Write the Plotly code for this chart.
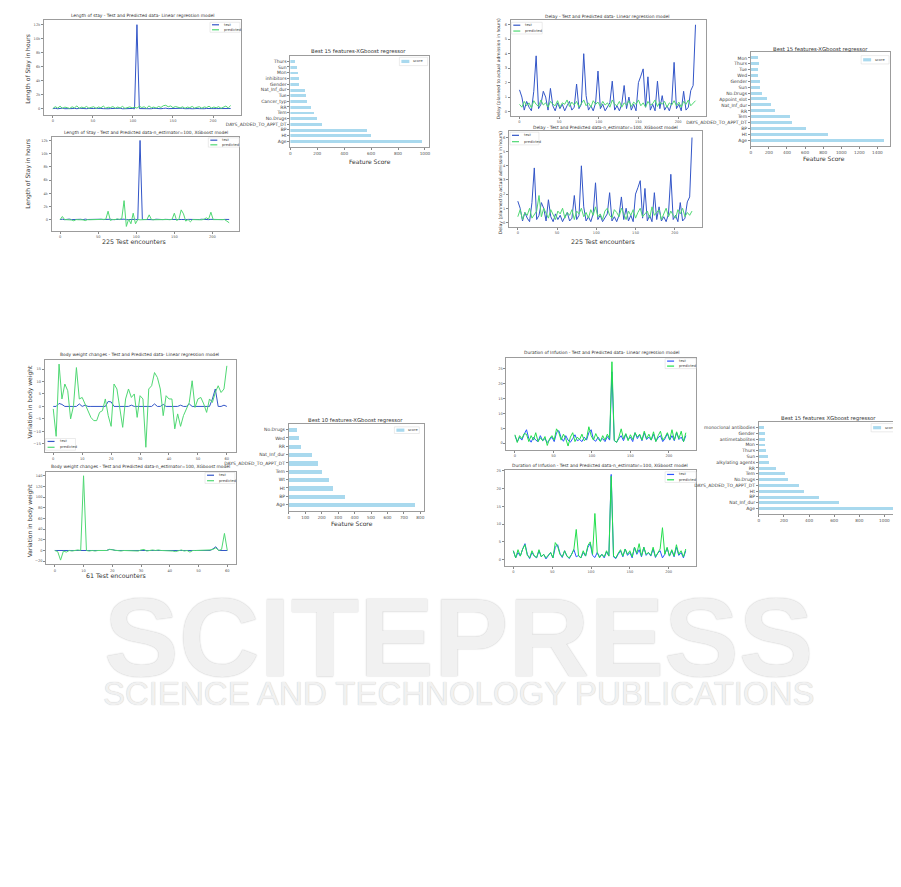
import plotly.graph_objects as go

W, H = 901, 887

# ---------------- data ----------------
# Length of stay (every 3rd test encounter)
los_test = [40, 90, 20, 60, 110, 30, 70, 15, 50, 80, 25, 100, 45, 60, 30,
            75, 20, 55, 90, 35, 65, 40, 85, 25, 50, 70, 30, 60, 95, 20,
            45, 80, 35, 65, 20, 12000, 50, 30, 75, 40, 60, 25, 90, 45, 55,
            30, 70, 110, 40, 60, 25, 80, 35, 50, 95, 30, 65, 45, 20, 75,
            55, 40, 85, 30, 60, 25, 70, 45, 50, 35, 80, 30, 60, 40, 55]
los_pred_lr = [50, 320, 120, 380, 90, 250, 180, 60, 300, 150, 420, 80, 260, 140, 350,
               100, 220, 310, 70, 280, 160, 400, 110, 240, 190, 330, 90, 270, 130, 360,
               80, 210, 290, 150, 240, 110, 380, 200, 300, 90, 430, 170, 260, 120, 350,
               210, 460, 520, 300, 420, 180, 340, 250, 150, 300, 90, 260, 180, 350, 120,
               240, 310, 100, 280, 200, 380, 130, 260, 170, 320, 90, 250, 400, 140, 480]
los_pred_xgb = [20, 500, 30, 10, 40, -20, -150, 30, 10, 20, 0, -120, 20, 10, 30,
                0, 20, 10, 30, 40, 80, 1300, -100, 60, 20, 150, 40, 200, 2900, -1000,
                100, -600, 1000, -600, 50, 0, 30, 10, 40, 750, 20, 10, 30, 0, 20,
                10, 30, 40, 20, 60, 1000, -100, 80, 1500, 900, -200, 40, -300, 30, 10,
                20, 40, 0, 80, 300, 100, 1150, 30, 10, 40, 20, 60, 30, -200, -450]

# Delay (planned to actual admission)
delay_test = [1.5, 1.0, 0.1, 0.7, 0.3, 0.05, 1.4, 3.85, 0.2, 0.5, 1.4, 1.0, 0.1, 1.6, 0.4,
              0.05, 0.6, 0.2, 0.5, 0.05, 0.4, 0.7, 0.1, 0.3, 1.9, 0.2, 0.5, 4.0, 1.1, 0.1,
              0.4, 0.05, 0.6, 2.8, 0.2, 0.5, 0.05, 0.3, 0.6, 2.1, 0.1, 0.4, 0.05, 0.5, 1.8,
              0.2, 1.0, 0.1, 0.5, 0.05, 2.0, 2.45, 2.95, 0.3, 2.4, 0.1, 0.5, 0.05, 2.1, 0.2,
              1.1, 0.1, 0.4, 0.05, 0.6, 3.4, 0.2, 0.5, 0.05, 1.4, 0.1, 0.3, 1.45, 1.8, 6.0]
delay_pred_lr = [0.5, 0.3, 0.7, 0.4, 0.6, 0.25, 0.75, 0.5, 0.35, 0.8, 0.45, 0.6, 0.3, 0.7, 0.5,
                 0.4, 0.75, 0.3, 0.6, 0.5, 0.8, 0.35, 0.65, 0.45, 0.7, 0.3, 0.55, 0.8, 0.4, 0.6,
                 0.3, 0.75, 0.5, 0.65, 0.35, 0.7, 0.45, 0.6, 0.3, 0.8, 0.5, 0.4, 0.7, 0.3, 0.6,
                 0.45, 0.75, 0.35, 0.65, 0.5, 0.8, 0.4, 0.6, 0.3, 0.7, 0.45, 0.55, 0.8, 0.35, 0.65,
                 0.5, 0.7, 0.3, 0.6, 0.45, 0.75, 0.4, 0.65, 0.3, 0.7, 0.5, 0.8, 0.4, 0.6, 0.75]
delay_pred_xgb = [0.4, 0.9, 0.2, 0.7, 0.5, 1.0, 0.3, 0.6, 0.8, 1.9, 0.4, 1.0, 0.6, 0.3, 0.9,
                  0.5, 0.2, 0.8, 0.6, 1.0, 0.3, 0.7, 0.5, 0.9, 0.2, 0.8, 0.6, 1.0, 0.4, 0.7,
                  0.3, 0.9, 0.5, 1.1, 0.4, 0.6, 0.2, 0.8, 1.0, 0.5, 0.3, 0.9, 0.7, 0.4, 1.0,
                  0.6, 0.2, 0.8, 0.5, 0.9, 0.3, 0.7, 1.0, 0.4, 0.6, 0.8, 0.3, 1.1, 0.5, 0.7,
                  0.9, 0.2, 0.6, 1.0, 0.4, 0.8, 0.5, 0.3, 0.9, 0.6, 1.0, 0.4, 0.7, 0.5, 0.8]

# Body weight changes (61 encounters)
bw_test = [0, 0, 1.2, 0.8, 0, 0, 0, 0, 0, 1.0,
           0, 0.5, 0, 0, 0, 0, 0, 0, 0, 2.0,
           1.8, 0, 0, 0, 0, 0, 0, 0.5, 0, 0,
           0, 0, 0, 0, 0, 1.0, 0, 0, 0.8, 0,
           0, 0, 0, 0, 0.5, 0, 0, 1.0, 0, 0,
           0, 0, 0, 0, 0, 3.0, 7.0, 0, 0, 0.5,
           0]
bw_pred_lr = [-1, -12, 17, 3, 9, 6.3, -5, 0.3, 15.6, 3,
              3.6, 1, -1.7, -4.4, -5.7, -5.7, -2.4, -1.7, 3, -3.7,
              -8, 9, 7, -1, -8.4, 3, 7, 3.6, 5, -4.4,
              4.3, 3, -16.4, 7, 8.3, 13.6, 11.6, 7, -3.7, 4.3,
              3, 3, -9, -3, -8, -3.7, -1, 1.6, 10.3, -0.4,
              3, 3.6, 1, -2.4, 3, 1.6, 5.6, 8.3, 5.6, 7,
              16.3]
bw_pred_xgb = [0, -2, -18, -1, -3, 0, -1, 0, 1, 0,
               140, 0, -1, 0, -1, 0, 0, 1, 0, 2,
               1, 0, 0, -1, 0, 0, 0, 0, 0, -1,
               1, 2, -1, 0, 1, 0, 1, 0, 0, -1,
               0, -1, -2, 0, 1, -1, 0, -3, 0, 0,
               0, 0, 0, 0, 1, 2, 5, 0, 2, 32,
               0]

# Duration of infusion
dur_test = [2.5, 0.5, 2.0, 1.0, 3.0, 4.5, 1.5, 0.3, 2.0, 1.0, 0.5, 2.5, 0.8, 1.5, 0.2,
            1.0, 2.0, 0.5, 3.5, 4.2, 1.8, 0.6, 2.5, 1.0, 0.3, 1.5, 2.8, 0.8, 1.2, 0.5,
            2.0, 1.0, 3.5, 4.5, 1.2, 0.6, 2.0, 0.8, 1.5, 0.5, 2.2, 1.0, 24.0, 0.8, 0.3,
            1.5, 2.5, 0.8, 3.0, 1.2, 2.0, 0.5, 3.5, 1.5, 2.8, 0.8, 3.5, 1.2, 2.0, 1.0,
            3.0, 0.6, 1.8, 2.5, 0.5, 1.5, 3.2, 1.0, 2.5, 0.8, 3.5, 1.2, 2.0, 0.5, 2.5]
dur_pred_lr = [2.8, 0.2, 2.5, 1.5, 3.2, 3.0, 0.5, 2.5, 1.0, 3.5, 0.5, 1.8, 0.8, 2.2, -0.8,
               1.5, 2.5, 1.0, 4.8, 3.5, 1.0, 3.0, 1.5, -1.0, 2.0, 3.5, 0.5, 2.0, 1.2, 3.0,
               0.8, 1.5, 5.5, 2.5, 1.0, 3.2, 1.5, 0.5, 2.5, 1.0, 3.0, 1.5, 27.4, 1.0, 0.2,
               2.0, 4.8, 1.5, 3.2, 0.8, 2.8, 1.2, 3.5, 2.0, 3.0, 1.0, 4.0, 1.5, 3.0, 1.0,
               3.8, 0.5, 2.5, 4.0, 1.0, 2.0, 3.5, 1.2, 4.5, 1.0, 3.8, 1.5, 4.0, 0.5, 3.5]
dur_pred_xgb = [2.5, 0.5, 2.8, 1.0, 3.0, 4.2, 1.2, 0.5, 2.5, 1.0, 0.6, 2.8, 0.8, 1.5, 0.5,
                1.2, 2.0, 0.5, 4.8, 3.8, 1.5, 0.8, 2.5, 1.0, 0.5, 1.5, 3.0, 8.5, 1.0, 0.5,
                2.5, 1.0, 4.0, 5.0, 1.5, 13.0, 2.0, 0.5, 1.5, 0.8, 2.5, 1.0, 23.5, 1.0, 0.5,
                1.8, 2.8, 1.0, 3.0, 1.5, 2.5, 0.8, 3.5, 1.8, 4.5, 1.0, 3.5, 1.5, 2.0, 1.2,
                3.5, 0.8, 2.0, 3.0, 9.0, 1.5, 3.5, 1.0, 2.8, 1.0, 4.2, 1.5, 2.5, 0.8, 3.0]

# Feature scores (listed bottom -> top)
f1_names = ["Age", "Ht", "BP", "DAYS_ADDED_TO_APPT_DT", "No.Drugs", "Tem", "RR", "Cancer_typ",
            "Tue", "Nat_Inf_dur", "Gender", "inhibitors", "Mon", "Sun", "Thurs"]
f1_scores = [978, 603, 571, 241, 204, 175, 155, 125, 116, 113, 69, 69, 59, 49, 37]
f2_names = ["Age", "Ht", "BP", "DAYS_ADDED_TO_APPT_DT", "Tem", "RR", "Nat_Inf_dur", "Appoint_slot",
            "No.Drugs", "Sun", "Gender", "Wed", "Tue", "Thurs", "Mon"]
f2_scores = [1468, 851, 613, 451, 433, 264, 224, 180, 121, 99, 99, 81, 73, 84, 73]
f3_names = ["Age", "BP", "Ht", "Wt", "Tem", "DAYS_ADDED_TO_APPT_DT", "Nat_Inf_dur", "RR", "Wed", "No.Drugs"]
f3_scores = [768, 339, 269, 246, 200, 178, 141, 70, 62, 50]
f4_names = ["Age", "Nat_Inf_dur", "BP", "Ht", "DAYS_ADDED_TO_APPT_DT", "No.Drugs", "Tem", "RR",
            "alkylating agents", "Sun", "Thurs", "Mon", "antimetabolites", "Gender", "monoclonal antibodies"]
f4_scores = [1071, 638, 479, 360, 317, 233, 204, 138, 82, 69, 53, 45, 45, 48, 40]

# ---------------- helpers ----------------
fig = go.Figure()
layout = {}
annotations = []
shapes = []

TICKFONT = dict(family="DejaVu Sans", size=3.6, color="#555")
AX = dict(showline=True, mirror=True, linecolor="#9c9c9c", linewidth=0.8,
          ticks="outside", ticklen=2, tickwidth=0.6, tickcolor="#888",
          showgrid=False, zeroline=False, tickfont=TICKFONT, fixedrange=True)


def xd(a, b):
    return [a / W, b / W]


def yd(a, b):
    return [1 - b / H, 1 - a / H]


def set_axes(n, box, xr, yr, xdt, ydt, cats=None, ytickfont=None):
    k = "" if n == 1 else str(n)
    xa = dict(AX, domain=xd(box[0], box[1]), range=xr, anchor="y" + k, dtick=xdt, tick0=0)
    ya = dict(AX, domain=yd(box[2], box[3]), range=yr, anchor="x" + k)
    if cats is not None:
        ya.update(type="category", ticklen=2, tickmode="array", tickvals=cats, ticktext=cats,
                  categoryorder="array", categoryarray=cats)
        if ytickfont:
            ya["tickfont"] = ytickfont
    else:
        ya.update(dtick=ydt, tick0=0)
    layout["xaxis" + k] = xa
    layout["yaxis" + k] = ya
    return "x" + k, "y" + k


def text(x, y, s, size, color="#333", angle=0, anchor="center", family="DejaVu Sans"):
    annotations.append(dict(x=x / W, y=1 - y / H, xref="paper", yref="paper", text=s,
                            showarrow=False, textangle=angle, xanchor=anchor, yanchor="middle",
                            font=dict(size=size, color=color, family=family)))


def legend(x0, y0, x1, y1, items):
    shapes.append(dict(type="rect", xref="paper", yref="paper", x0=x0 / W, x1=x1 / W,
                       y0=1 - y1 / H, y1=1 - y0 / H, line=dict(color="#dddddd", width=0.6),
                       fillcolor="rgba(255,255,255,0.85)"))
    n = len(items)
    step = (y1 - y0) / n
    for i, (lab, col, kind) in enumerate(items):
        yc = y0 + step * (i + 0.5)
        if kind == "line":
            shapes.append(dict(type="line", xref="paper", yref="paper", x0=(x0 + 2) / W, x1=(x0 + 9) / W,
                               y0=1 - yc / H, y1=1 - yc / H, line=dict(color=col, width=1.2)))
        else:
            shapes.append(dict(type="rect", xref="paper", yref="paper", x0=(x0 + 2) / W, x1=(x0 + 10) / W,
                               y0=1 - (yc + 1.6) / H, y1=1 - (yc - 1.6) / H, line=dict(width=0),
                               fillcolor=col))
        text(x0 + 12, yc, lab, 3.6, "#444", anchor="left")


def line_panel(n, box, test, pred, xr, yr, xdt, ydt, ctest, cpred):
    xa, ya = set_axes(n, box, xr, yr, xdt, ydt)
    step_t = 3 if len(test) < 100 and xr[1] > 100 else 1
    xt = [i * step_t for i in range(len(test))]
    xp = [i * step_t for i in range(len(pred))]
    fig.add_trace(go.Scatter(x=xt, y=test, mode="lines", line=dict(color=ctest, width=1),
                             xaxis=xa, yaxis=ya, showlegend=False))
    fig.add_trace(go.Scatter(x=xp, y=pred, mode="lines", line=dict(color=cpred, width=1),
                             xaxis=xa, yaxis=ya, showlegend=False))


BAR = "#a9d9ee"


def bar_panel(n, box, names, scores, xmax, xdt):
    m = len(names)
    pad = 0.05 * (m - 0.5)
    xa, ya = set_axes(n, box, [0, xmax], [-0.25 - pad, m - 0.75 + pad], xdt, None, cats=names,
                      ytickfont=dict(family="DejaVu Sans", size=4.5, color="#444"))
    layout["xaxis" + ("" if n == 1 else str(n))]["tickfont"] = dict(family="DejaVu Sans", size=4.2, color="#555")
    fig.add_trace(go.Bar(x=scores, y=names, orientation="h", width=0.5, marker=dict(color=BAR, line=dict(width=0)),
                         xaxis=xa, yaxis=ya, showlegend=False))


B1, G1 = "#3356c8", "#4fd873"
B4, G4 = "#2b55ff", "#22df4c"
XR225 = [-11.2, 235.2]
XR61 = [-3, 63]

# ---- panel 1: Length of stay ----
line_panel(1, (35, 233, 11, 106), los_test, los_pred_lr, XR225, [-850, 12670], 50, 2000, B1, G1)
line_panel(2, (42.7, 231, 128.3, 222.3), los_test, los_pred_xgb, XR225, [-1700, 12500], 50, 2000, B1, G1)
bar_panel(3, (282.3, 421, 46.7, 138), f1_names, f1_scores, 1027, 200)

# ---- panel 2: Delay ----
line_panel(4, (503.3, 699.3, 11, 107), delay_test, delay_pred_lr, XR225, [-0.3, 6.33], 50, 1, B1, G1)
line_panel(5, (501.7, 695.7, 122.3, 218.3), delay_test, delay_pred_xgb, XR225, [-0.33, 6.45], 50, 1, B1, G1)
bar_panel(6, (744.3, 884.3, 43.3, 137.3), f2_names, f2_scores, 1543, 200)

# ---- panel 3: Body weight ----
line_panel(7, (35.7, 227.3, 351, 444), bw_test, bw_pred_lr, XR61, [-18.5, 18.8], 10, 5, B1, G1)
line_panel(8, (37.3, 227.7, 463.3, 556), bw_test, bw_pred_xgb, XR61, [-26, 147.5], 10, 20, B1, G1)
bar_panel(9, (280.7, 416.7, 415, 502.3), f3_names, f3_scores, 824, 100)

# ---- panel 4: Duration of infusion ----
line_panel(10, (499, 689.3, 349, 441.7), dur_test, dur_pred_lr, XR225, [-2.4, 28.8], 50, 5, B4, G4)
line_panel(11, (497.3, 689.3, 461.7, 557.3), dur_test, dur_pred_xgb, XR225, [-1.7, 25.2], 50, 5, B4, G4)
bar_panel(12, (752.3, 894, 413.3, 505.7), f4_names, f4_scores, 1124, 200)

# ---------------- titles & labels ----------------
TF = 4.4
text(134, 6.5, "Length of stay - Test and Predicted data- Linear regression model", TF)
text(137, 124, "Length of Stay - Test and Predicted data-n_estimator=100, XGboost model", TF)
text(351, 42.5, "Best 15 features-XGboost regressor", 5.3)
text(601, 7.5, "Delay - Test and Predicted data- Linear regression model", TF)
text(598, 119.5, "Delay - Test and Predicted data-n_estimator=100, XGboost model", TF)
text(814, 40.5, "Best 15 features-XGboost regressor", 5.3)
text(131, 346, "Body weight changes - Test and Predicted data- Linear regression model", TF)
text(132, 459, "Body weight changes - Test and Predicted data-n_estimator=100, XGboost model", TF)
text(348, 412, "Best 10 features-XGboost regressor", 5.3)
text(594, 344, "Duration of Infusion - Test and Predicted data- Linear regression model", TF)
text(593, 458, "Duration of Infusion - Test and Predicted data-n_estimator=100, XGboost model", TF)
text(822, 409.5, "Best 15 features XGboost regressor", 5.3)

LF = 6.0
text(19, 60, "Length of Stay in hours", LF, angle=-90)
text(19, 165, "Length of Stay in hours", LF, angle=-90)
text(492, 60, "Delay (planned to actual admission in hours)", 4.5, angle=-90)
text(493, 174, "Delay (planned to actual admission in hours)", 4.6, angle=-90)
text(21, 393, "Variation in body weight", LF, angle=-90)
text(21, 512, "Variation in body weight", LF, angle=-90)

text(125, 233, "225 Test encounters", 6.3)
text(596, 233, "225 Test encounters", 6.3)
text(107, 567, "61 Test encounters", 6.3)
text(362, 153, "Feature Score", 6.0)
text(818, 150, "Feature Score", 6.0)
text(344, 515, "Feature Score", 6.0)

# ---------------- legends ----------------
lt = [("test", B1, "line"), ("predicted", G1, "line")]
lt4 = [("test", B4, "line"), ("predicted", G4, "line")]
legend(201.7, 13.3, 231.7, 23.3, lt)
legend(200, 129, 231, 138.3, lt)
legend(504, 13.3, 535, 25, lt)
legend(502.7, 123.3, 531.7, 136, lt)
legend(36.7, 430, 66.7, 441.7, lt)
legend(196.7, 464, 226.7, 475, lt)
legend(658.3, 350, 689.3, 360, lt4)
legend(658.3, 463.3, 689.3, 474, lt4)
ls = [("score", BAR, "patch")]
legend(391.7, 48.3, 420, 56.7, ls)
legend(855, 46.7, 883, 55, ls)
legend(386.7, 418.3, 411.7, 425, ls)
legend(865, 415, 892.7, 423.3, ls)

# ---------------- watermark ----------------
annotations.append(dict(x=452 / W, y=1 - 629 / H, xref="paper", yref="paper", showarrow=False,
                        text="<b>SCITEPRESS</b>", xanchor="center", yanchor="middle",
                        font=dict(size=112, color="#f1f1f1", family="Liberation Sans",
                                  shadow="0px 0px 1.5px #b8b8b8")))
annotations.append(dict(x=452 / W, y=1 - 685 / H, xref="paper", yref="paper", showarrow=False,
                        text="SCIENCE AND TECHNOLOGY PUBLICATIONS", xanchor="center", yanchor="middle",
                        font=dict(size=33, color="#f1f1f1", family="Liberation Sans",
                                  shadow="0px 0px 1px #c0c0c0")))

fig.update_layout(width=W, height=H, autosize=False, margin=dict(l=0, r=0, t=0, b=0),
                  paper_bgcolor="white", plot_bgcolor="white", showlegend=False,
                  bargap=0, annotations=annotations, shapes=shapes, **layout)

fig.write_html("out.html")
